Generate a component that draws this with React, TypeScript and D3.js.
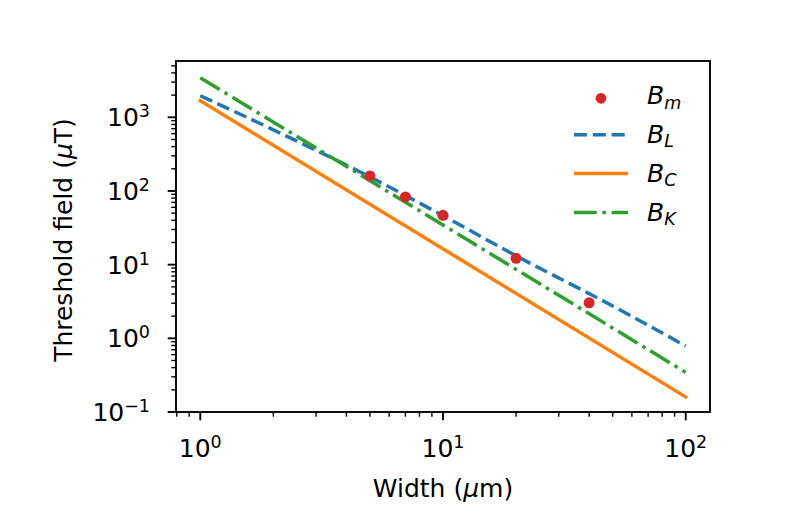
import React from 'react';
import * as d3 from 'd3';

// ---- data ----
const measuredWidths = [5, 7, 10, 20, 40];
const measuredField = [160, 83, 46.7, 12.2, 3.04];

const lWidths = [1, 2, 5, 10, 20, 50, 100];
const lField = [1963, 676, 155, 46.2, 13.2, 2.75, 0.787];

const cWidths = [1, 100];
const cField = [1680, 0.16];

const kWidths = [1, 100];
const kField = [3440, 0.345];

const xMajorTicks = [1, 10, 100];
const xTickExps = ['0', '1', '2'];
const yMajorTicks = [0.1, 1, 10, 100, 1000];
const yTickExps = ['\u22121', '0', '1', '2', '3'];

const legendSubs = ['m', 'L', 'C', 'K'];

const xLimits = [Math.pow(10, -0.1), Math.pow(10, 2.1)];
const yLimits = [0.1, Math.pow(10, 3.764)];

// ---- layout ----
const W = 789;
const H = 514;
const left = 176;
const right = 710;
const top = 61;
const bottom = 412;
const FONT = "'DejaVu Sans', sans-serif";
const FS = 25;
const SUP = 17.5;

const blue = '#1f77b4';
const orange = '#ff7f0e';
const green = '#2ca02c';
const red = '#d62728';

const LW = 3.5;
const dashed = '13.1,5.7';
const dashdot = '22.7,5.7,3.5,5.7';

function minorTicks(domain: number[]) {
  const out: number[] = [];
  const k0 = Math.floor(Math.log10(domain[0])) - 1;
  const k1 = Math.ceil(Math.log10(domain[1])) + 1;
  for (let k = k0; k <= k1; k++) {
    for (let m = 2; m <= 9; m++) {
      const v = m * Math.pow(10, k);
      if (v >= domain[0] && v <= domain[1]) out.push(v);
    }
  }
  return out;
}

export default function App() {
  const x = d3.scaleLog().domain(xLimits).range([left, right]);
  const y = d3.scaleLog().domain(yLimits).range([bottom, top]);

  const line = d3
    .line<[number, number]>()
    .x((d) => x(d[0]))
    .y((d) => y(d[1]));
  const curve = d3
    .line<[number, number]>()
    .x((d) => x(d[0]))
    .y((d) => y(d[1]))
    .curve(d3.curveMonotoneX);

  const lPts = lWidths.map((w, i) => [w, lField[i]] as [number, number]);
  const cPts = cWidths.map((w, i) => [w, cField[i]] as [number, number]);
  const kPts = kWidths.map((w, i) => [w, kField[i]] as [number, number]);

  const xMinor = minorTicks(xLimits);
  const yMinor = minorTicks(yLimits);

  const majorLen = 8.3;
  const minorLen = 4.7;

  const legX0 = 574;
  const legX1 = 628;
  const legText = 647;
  const legBase0 = 104;
  const legStep = 38.9;

  return (
    <svg
      width={W}
      height={H}
      viewBox={`0 0 ${W} ${H}`}
      style={{ position: 'absolute', left: 0, top: 0, background: '#fff' }}
      fontFamily={FONT}
    >
      <rect x={0} y={0} width={W} height={H} fill="#fff" />
      <defs>
        <clipPath id="plotclip">
          <rect x={left} y={top} width={right - left} height={bottom - top} />
        </clipPath>
      </defs>

      {/* data lines */}
      <g clipPath="url(#plotclip)">
        <path d={line(cPts) || ''} fill="none" stroke={orange} strokeWidth={LW} strokeLinecap="square" />
        <path d={curve(lPts) || ''} fill="none" stroke={blue} strokeWidth={LW} strokeDasharray={dashed} />
        <path d={line(kPts) || ''} fill="none" stroke={green} strokeWidth={LW} strokeDasharray={dashdot} />
        {measuredWidths.map((w, i) => (
          <circle key={i} cx={x(w)} cy={y(measuredField[i])} r={5.5} fill={red} />
        ))}
      </g>

      {/* spines */}
      <rect
        x={left}
        y={top}
        width={right - left}
        height={bottom - top}
        fill="none"
        stroke="#000"
        strokeWidth={1.9}
      />

      {/* x ticks */}
      {xMajorTicks.map((t, i) => (
        <g key={'xm' + i}>
          <line x1={x(t)} x2={x(t)} y1={bottom} y2={bottom + majorLen} stroke="#000" strokeWidth={1.9} />
          <text x={x(t)} y={456.7} fontSize={FS} textAnchor="middle" fill="#000">
            10
            <tspan fontSize={SUP} dy={-9}>
              {xTickExps[i]}
            </tspan>
          </text>
        </g>
      ))}
      {xMinor.map((t, i) => (
        <line key={'xn' + i} x1={x(t)} x2={x(t)} y1={bottom} y2={bottom + minorLen} stroke="#000" strokeWidth={1.4} />
      ))}

      {/* y ticks */}
      {yMajorTicks.map((t, i) => (
        <g key={'ym' + i}>
          <line x1={left} x2={left - majorLen} y1={y(t)} y2={y(t)} stroke="#000" strokeWidth={1.9} />
          <text x={150} y={y(t) + 9} fontSize={FS} textAnchor="end" fill="#000">
            10
            <tspan fontSize={SUP} dy={-9}>
              {yTickExps[i]}
            </tspan>
          </text>
        </g>
      ))}
      {yMinor.map((t, i) => (
        <line key={'yn' + i} x1={left} x2={left - minorLen} y1={y(t)} y2={y(t)} stroke="#000" strokeWidth={1.4} />
      ))}

      {/* axis labels */}
      <text x={(left + right) / 2} y={497} fontSize={FS} textAnchor="middle" fill="#000">
        Width (<tspan fontStyle="italic">μ</tspan>m)
      </text>
      <text
        transform={`translate(72, 240) rotate(-90)`}
        fontSize={FS}
        textAnchor="middle"
        fill="#000"
      >
        Threshold field (<tspan fontStyle="italic">μ</tspan>T)
      </text>

      {/* legend */}
      {legendSubs.map((s, i) => {
        const base = legBase0 + i * legStep;
        const hy = i === 0 ? base - 5.7 : base - 8.2;
        return (
          <g key={'lg' + i}>
            {i === 0 && <circle cx={(legX0 + legX1) / 2} cy={hy} r={5.4} fill={red} />}
            {i === 1 && (
              <line x1={legX0} x2={legX1} y1={hy} y2={hy} stroke={blue} strokeWidth={LW} strokeDasharray={dashed} />
            )}
            {i === 2 && (
              <line x1={legX0} x2={legX1} y1={hy} y2={hy} stroke={orange} strokeWidth={LW} />
            )}
            {i === 3 && (
              <line x1={legX0} x2={legX1} y1={hy} y2={hy} stroke={green} strokeWidth={LW} strokeDasharray={dashdot} />
            )}
            <text x={legText} y={base} fontSize={FS} fontStyle="italic" fill="#000">
              B
              <tspan fontSize={SUP} dy={4.5}>
                {s}
              </tspan>
            </text>
          </g>
        );
      })}
    </svg>
  );
}
